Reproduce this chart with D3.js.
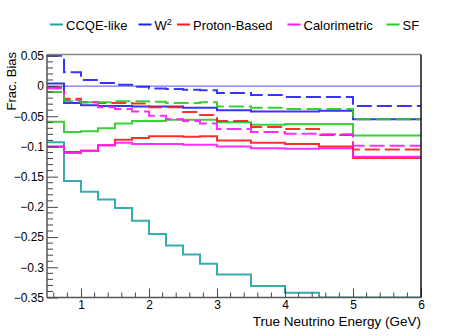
<!DOCTYPE html>
<html lang="en">
    <head>
        <meta charset="utf-8">
        <title>Frac. Bias vs True Neutrino Energy</title>
        <script type="text/javascript" src="https://d3js.org/d3.v7.min.js"></script>
        <style type="text/css">
            body { margin: 0; background: #fff; }
            text { font-family: "Liberation Sans", Arial, Helvetica, sans-serif; fill: #000; }
        </style>
    </head>
    <body>
        <div id="bias"></div>
        <script type="text/javascript">

            // bin edges of the true neutrino energy (GeV)
            var binEdges = [0.5, 0.75, 1, 1.25, 1.5, 1.75, 2, 2.25, 2.5, 2.75, 3, 3.5, 4, 4.5, 5, 6];

            // fractional bias per bin
            var ccqeSolid  = [-0.093, -0.157, -0.175, -0.188, -0.202, -0.223, -0.245, -0.264, -0.279, -0.294, -0.312, -0.331, -0.342, -0.35, -0.35];
            var w2Solid    = [0.004, -0.028, -0.032, -0.033, -0.033, -0.034, -0.034, -0.034, -0.036, -0.036, -0.040, -0.042, -0.042, -0.041, -0.055];
            var w2Dashed   = [0.050, 0.023, 0.010, 0.005, 0.002, -0.001, -0.004, -0.005, -0.006, -0.007, -0.0115, -0.015, -0.018, -0.018, -0.033];
            var protSolid  = [-0.100, -0.109, -0.107, -0.098, -0.089, -0.086, -0.083, -0.083, -0.084, -0.083, -0.090, -0.094, -0.096, -0.100, -0.119];
            var protDashed = [-0.002, -0.021, -0.027, -0.028, -0.028, -0.029, -0.035, -0.035, -0.043, -0.048, -0.058, -0.068, -0.071, -0.081, -0.105];
            var calSolid   = [-0.101, -0.111, -0.107, -0.098, -0.094, -0.096, -0.096, -0.096, -0.097, -0.097, -0.100, -0.103, -0.104, -0.103, -0.117];
            var calDashed  = [-0.004, -0.023, -0.027, -0.035, -0.038, -0.042, -0.049, -0.055, -0.058, -0.062, -0.071, -0.076, -0.079, -0.080, -0.099];
            var sfSolid    = [-0.059, -0.076, -0.075, -0.070, -0.062, -0.058, -0.058, -0.056, -0.056, -0.056, -0.060, -0.064, -0.063, -0.063, -0.082];
            var sfDashed   = [-0.010, -0.025, -0.027, -0.027, -0.025, -0.025, -0.026, -0.028, -0.028, -0.027, -0.034, -0.036, -0.038, -0.038, -0.055];

            var legendNames = ["CCQE-like", "W", "Proton-Based", "Calorimetric", "SF"];

            var xTicks = [1, 2, 3, 4, 5, 6];
            var yTicks = [0.05, 0, -0.05, -0.1, -0.15, -0.2, -0.25, -0.3, -0.35];

            var colors = {ccqe: "#22a3a3", w2: "#1f1fff", prot: "#ff1a1a", cal: "#ff1aff", sf: "#22cc22"};

            // frame in pixels
            var fLeft = 47, fRight = 421, fTop = 54.5, fBottom = 297.5;

            var svg = d3.select("#bias")
                .append("svg")
                    .attr("width", 468)
                    .attr("height", 336);

            var x = d3.scaleLinear().domain([0.5, 6]).range([fLeft, fRight]);
            var y = d3.scaleLinear().domain([-0.35, 0.0522]).range([fBottom, fTop]);

            svg.append("clipPath").attr("id", "frame")
                .append("rect")
                    .attr("x", fLeft).attr("y", fTop)
                    .attr("width", fRight - fLeft).attr("height", fBottom - fTop);

            var plot = svg.append("g").attr("clip-path", "url(#frame)");

            // zero line
            plot.append("line")
                .attr("x1", x(0.5)).attr("x2", x(6))
                .attr("y1", y(0)).attr("y2", y(0))
                .attr("stroke", "#7474f0")
                .attr("stroke-width", 1.2);

            var step = d3.line()
                .x(function(d) { return x(d[0]); })
                .y(function(d) { return y(d[1]); })
                .curve(d3.curveStepAfter);

            function points(vals) {
                var pts = vals.map(function(v, i) { return [binEdges[i], v]; });
                pts.push([binEdges[binEdges.length - 1], vals[vals.length - 1]]);
                return pts;
            }

            var hists = [
                {vals: ccqeSolid, color: colors.ccqe, dash: null},
                {vals: w2Solid, color: colors.w2, dash: null},
                {vals: w2Dashed, color: colors.w2, dash: "15,5"},
                {vals: protSolid, color: colors.prot, dash: null},
                {vals: calSolid, color: colors.cal, dash: null},
                {vals: sfSolid, color: colors.sf, dash: null},
                {vals: protDashed, color: colors.prot, dash: "15,5"},
                {vals: calDashed, color: colors.cal, dash: "15,5"},
                {vals: sfDashed, color: colors.sf, dash: "15,5"}
            ];

            plot.selectAll("path.hist")
                .data(hists)
                .enter().append("path")
                    .attr("class", "hist")
                    .attr("fill", "none")
                    .attr("stroke", function(d) { return d.color; })
                    .attr("stroke-width", 2)
                    .attr("stroke-opacity", 0.9)
                    .attr("stroke-dasharray", function(d) { return d.dash; })
                    .attr("d", function(d) { return step(points(d.vals)); });

            // axes, ticks point inwards like ROOT
            var yAxis = svg.append("g").attr("transform", "translate(" + fLeft + ",0)");
            yAxis.call(d3.axisLeft(y).tickValues(yTicks).tickSize(-11)
                .tickFormat(function(d) { return d === 0 ? "0" : String(+d.toFixed(2)).replace("-", "\u2212"); }));
            yAxis.select(".domain").remove();
            yAxis.selectAll("line").attr("stroke", "#444");
            yAxis.selectAll(".tick text")
                .attr("x", -3)
                .style("font-size", "12px")
                .attr("fill", "#000");
            yAxis.selectAll("line.minor")
                .data(d3.range(-34, 6).filter(function(i) { return i % 5 !== 0; }))
                .enter().append("line")
                    .attr("class", "minor")
                    .attr("x1", 0).attr("x2", 6)
                    .attr("y1", function(i) { return y(i / 100); })
                    .attr("y2", function(i) { return y(i / 100); })
                    .attr("stroke", "#444");

            var xAxis = svg.append("g").attr("transform", "translate(0," + fBottom + ")");
            xAxis.call(d3.axisBottom(x).tickValues(xTicks).tickSize(-9)
                .tickFormat(d3.format("d")));
            xAxis.select(".domain").remove();
            xAxis.selectAll("line").attr("stroke", "#444");
            xAxis.selectAll(".tick text")
                .attr("y", 3)
                .style("font-size", "12px")
                .attr("fill", "#000");
            xAxis.selectAll("line.minor")
                .data(d3.range(3, 30).filter(function(i) { return i % 5 !== 0; }))
                .enter().append("line")
                    .attr("class", "minor")
                    .attr("x1", function(i) { return x(i / 5); })
                    .attr("x2", function(i) { return x(i / 5); })
                    .attr("y1", 0).attr("y2", -5)
                    .attr("stroke", "#444");

            // frame
            svg.append("line").attr("x1", fLeft).attr("x2", fRight).attr("y1", fTop).attr("y2", fTop)
                .attr("stroke", "#888").attr("stroke-width", 1.3);
            svg.append("line").attr("x1", fRight).attr("x2", fRight).attr("y1", fTop).attr("y2", fBottom)
                .attr("stroke", "#111").attr("stroke-width", 1.5);
            svg.append("line").attr("x1", fLeft).attr("x2", fLeft).attr("y1", fTop).attr("y2", fBottom)
                .attr("stroke", "#555").attr("stroke-width", 1.5);
            svg.append("line").attr("x1", fLeft).attr("x2", fRight).attr("y1", fBottom).attr("y2", fBottom)
                .attr("stroke", "#555").attr("stroke-width", 1.5);

            // axis titles
            svg.append("text")
                .attr("transform", "translate(15.5,52) rotate(-90)")
                .attr("text-anchor", "end")
                .style("font-size", "13px")
                .text("Frac. Bias");

            svg.append("text")
                .attr("x", fRight).attr("y", 325.5)
                .attr("text-anchor", "end")
                .style("font-size", "13.5px")
                .text("True Neutrino Energy (GeV)");

            // legend
            var legendX = [50, 138.5, 177, 287.5, 386.5];
            var legendColors = [colors.ccqe, colors.w2, colors.prot, colors.cal, colors.sf];
            var legend = svg.selectAll("g.leg")
                .data(legendNames)
                .enter().append("g")
                    .attr("class", "leg")
                    .attr("transform", function(d, i) { return "translate(" + legendX[i] + ",24.5)"; });
            legend.append("line")
                .attr("x1", 0).attr("x2", 13)
                .attr("stroke", function(d, i) { return legendColors[i]; })
                .attr("stroke-width", 2);
            var lt = legend.append("text")
                .attr("x", 16).attr("y", 5)
                .style("font-size", "13px")
                .text(function(d) { return d; });
            lt.filter(function(d) { return d === "W"; })
                .append("tspan")
                    .attr("dy", -5)
                    .style("font-size", "9px")
                    .text("2");
        </script>
    </body>
</html>
